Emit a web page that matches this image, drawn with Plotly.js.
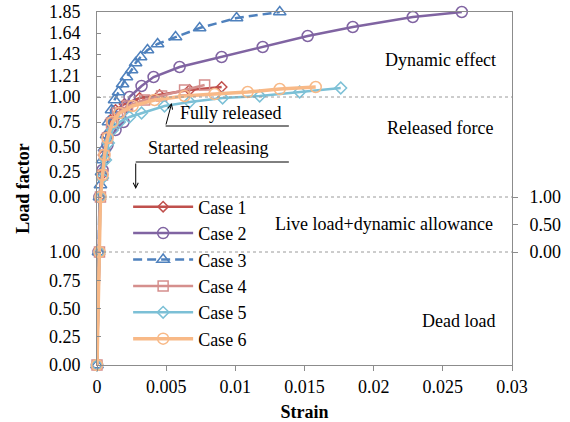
<!DOCTYPE html>
<html>
<head>
<meta charset="utf-8">
<script src="https://cdn.plot.ly/plotly-3.0.1.min.js"></script>
<style>html,body{margin:0;padding:0;background:#fff;}#chart{width:570px;height:422px;}</style>
</head>
<body>
<div id="chart"></div>
<script>
// Strain values and cumulative load stage (0-1 dead load, 1-2 live load+dynamic allowance,
// 2-3 released force, 3-3.85 dynamic effect factor 1.00-1.85)
const case1_strain = [0,0.00018,0.00018,0.00033,0.00047,0.00069,0.00098,0.00134,0.00199,0.00308,0.00452,0.00669,0.00901];
const case1_stage  = [0,1,2,2.22,2.42,2.62,2.77,2.87,2.93,2.99,3.02,3.07,3.10];
const case2_strain = [0,0.00011,0.00018,0.0004,0.00076,0.00134,0.00192,0.00213,0.00235,0.00322,0.00409,0.00597,0.00901,0.01198,0.01523,0.01849,0.02283,0.02637];
const case2_stage  = [0,1,2,2.27,2.52,2.67,2.75,2.90,3.00,3.11,3.20,3.30,3.40,3.50,3.61,3.70,3.80,3.85];
const case3_strain = [0,0.00011,0.00018,0.00025,0.00033,0.0004,0.00054,0.00069,0.00083,0.00105,0.00127,0.00156,0.00185,0.00213,0.0025,0.00279,0.00315,0.00365,0.00438,0.00568,0.00742,0.01009,0.01321];
const case3_stage  = [0,1,2,2.12,2.25,2.37,2.49,2.62,2.75,2.87,2.97,3.05,3.13,3.20,3.27,3.34,3.40,3.47,3.53,3.60,3.69,3.79,3.85];
const case4_strain = [0,0.00018,0.00025,0.0004,0.00054,0.00076,0.00105,0.00148,0.00221,0.00344,0.00467,0.00633,0.00778];
const case4_stage  = [0,1,2,2.22,2.42,2.59,2.74,2.84,2.91,2.97,3.01,3.07,3.12];
const case5_strain = [0,0.00018,0.00025,0.0004,0.00062,0.00083,0.00112,0.00163,0.00235,0.00322,0.00488,0.00669,0.00908,0.01176,0.01465,0.01762];
const case5_stage  = [0,1,2,2.19,2.37,2.54,2.67,2.75,2.80,2.84,2.91,2.95,2.99,3.01,3.05,3.09];
const case6_strain = [0,0.00018,0.00025,0.0004,0.00054,0.00076,0.00112,0.00163,0.00257,0.00416,0.00633,0.0085,0.01089,0.01321,0.01581];
const case6_stage  = [0,1,2,2.22,2.42,2.59,2.75,2.84,2.91,2.97,3.01,3.03,3.05,3.08,3.10];

const caseNames = ["Case 1","Case 2","Case 3","Case 4","Case 5","Case 6"];
const leftTickStages = [0,0.25,0.5,0.75,1,2,2.25,2.5,2.75,3,3.21,3.43,3.64,3.85];
const leftTickText   = ["0.00","0.25","0.50","0.75","1.00","0.00","0.25","0.50","0.75","1.00","1.21","1.43","1.64","1.85"];
const rightTickStages = [1,1.5,2];
const rightTickText   = ["0.00","0.50","1.00"];
const xTickVals = [0,0.005,0.01,0.015,0.02,0.025,0.03];
const xTickText = ["0","0.005","0.01","0.015","0.02","0.025","0.03"];

// piecewise axis scale: each load stage occupies its own band of the vertical axis
function toAxis(s){
  if (s <= 1) return s*113;
  if (s <= 2) return 113 + (s-1)*55;
  if (s <= 3) return 168 + (s-2)*100;
  return 268 + (s-3)*100;
}
const AX_MAX = toAxis(3.85);

const FONT = "Liberation Serif, Times New Roman, serif";
const styles = [
  {color:"#C0504D", symbol:"diamond-open", size:8, width:2.5, dash:"solid"},
  {color:"#8064A2", symbol:"circle-open", size:11, width:2.5, dash:"solid"},
  {color:"#4F81BD", symbol:"triangle-up-open", size:11, width:2.5, dash:"9px,5px"},
  {color:"#D58F8D", symbol:"square-open", size:10, width:2.5, dash:"solid"},
  {color:"#7CC0D6", symbol:"diamond-open", size:9, width:2.5, dash:"solid"},
  {color:"#F8B987", symbol:"circle-open", size:11, width:3.5, dash:"solid"}
];
const xs = [case1_strain,case2_strain,case3_strain,case4_strain,case5_strain,case6_strain];
const ys = [case1_stage,case2_stage,case3_stage,case4_stage,case5_stage,case6_stage];

const traces = xs.map((x,i)=>({
  type:"scatter", mode:"lines+markers", name:caseNames[i],
  x:x, y:ys[i].map(toAxis),
  line:{color:styles[i].color, width:styles[i].width, dash:styles[i].dash},
  marker:{symbol:styles[i].symbol, size:styles[i].size, color:styles[i].color, line:{color:styles[i].color, width:1.5}},
  cliponaxis:false
}));
// invisible trace to activate right axis
traces.push({type:"scatter", x:[0], y:[0], yaxis:"y2", mode:"markers", marker:{opacity:0}, showlegend:false, hoverinfo:"skip"});

const gridStages = [1,2,3];
const shapes = gridStages.map(s=>({type:"line", xref:"paper", yref:"y", x0:0, x1:1, y0:toAxis(s), y1:toAxis(s), line:{color:"#9a9a9a", width:1, dash:"dot"}}));
// bracket lines for the annotations
shapes.push({type:"line", xref:"x", yref:"y", x0:0.00496, x1:0.01387, y0:toAxis(2.71), y1:toAxis(2.71), line:{color:"#000", width:1}});
shapes.push({type:"line", xref:"x", yref:"y", x0:0.0028, x1:0.01387, y0:toAxis(2.35), y1:toAxis(2.35), line:{color:"#000", width:1}});

const tf = {family:FONT, size:18, color:"#000"};
const annotations = [
  {xref:"x", yref:"y", x:0.0054, y:toAxis(2.94), ax:0.00496, ay:toAxis(2.71), axref:"x", ayref:"y", showarrow:true, arrowhead:5, arrowsize:1, arrowwidth:1, arrowcolor:"#000", text:""},
  {xref:"x", yref:"y", x:0.0028, y:toAxis(2.08), ax:0.0028, ay:toAxis(2.35), axref:"x", ayref:"y", showarrow:true, arrowhead:5, arrowsize:1, arrowwidth:1, arrowcolor:"#000", text:""},
  {xref:"x", yref:"y", x:0.00966, y:toAxis(2.84), text:"Fully released", showarrow:false, font:tf},
  {xref:"x", yref:"y", x:0.0080, y:toAxis(2.49), text:"Started releasing", showarrow:false, font:tf},
  {xref:"x", yref:"y", x:0.02486, y:toAxis(3.37), text:"Dynamic effect", showarrow:false, font:tf},
  {xref:"x", yref:"y", x:0.02478, y:toAxis(2.69), text:"Released force", showarrow:false, font:tf},
  {xref:"x", yref:"y", x:0.02073, y:toAxis(1.51), text:"Live load+dynamic allowance", showarrow:false, font:tf},
  {xref:"x", yref:"y", x:0.02616, y:toAxis(0.39), text:"Dead load", showarrow:false, font:tf}
];

const layout = {
  width:570, height:422,
  margin:{l:97, r:58, t:12, b:57},
  paper_bgcolor:"#fff", plot_bgcolor:"#fff",
  font:{family:FONT, size:18, color:"#000"},
  showlegend:true,
  legend:{x:0.075, y:0.5, xanchor:"left", yanchor:"top", bgcolor:"rgba(0,0,0,0)", borderwidth:0,
          font:{family:FONT, size:18, color:"#000"}, itemwidth:60, traceorder:"normal"},
  xaxis:{range:[0,0.03], tickvals:xTickVals, ticktext:xTickText, showgrid:false, zeroline:false,
         showline:true, linecolor:"#8c8c8c", linewidth:1, mirror:true, ticks:"outside", ticklen:5, tickcolor:"#8c8c8c",
         tickfont:{family:FONT, size:18, color:"#000"},
         title:{text:"<b>Strain</b>", font:{family:FONT, size:18, color:"#000"}, standoff:9}},
  yaxis:{range:[0,AX_MAX], tickvals:leftTickStages.map(toAxis), ticktext:leftTickText, showgrid:false, zeroline:false,
         showline:true, linecolor:"#8c8c8c", linewidth:1, mirror:true, ticks:"inside", ticklen:4, tickcolor:"#8c8c8c",
         ticklabelstandoff:12,
         tickfont:{family:FONT, size:18, color:"#000"},
         title:{text:"<b>Load factor</b>", font:{family:FONT, size:18, color:"#000"}, standoff:14}},
  yaxis2:{overlaying:"y", side:"right", range:[0,AX_MAX], tickvals:rightTickStages.map(toAxis), ticktext:rightTickText,
          showgrid:false, zeroline:false, showline:false, ticks:"outside", ticklen:5, tickcolor:"#8c8c8c",
          ticklabelstandoff:8,
          tickfont:{family:FONT, size:18, color:"#000"}},
  shapes:shapes,
  annotations:annotations
};

Plotly.newPlot("chart", traces, layout, {displayModeBar:false, staticPlot:true});
</script>
</body>
</html>
